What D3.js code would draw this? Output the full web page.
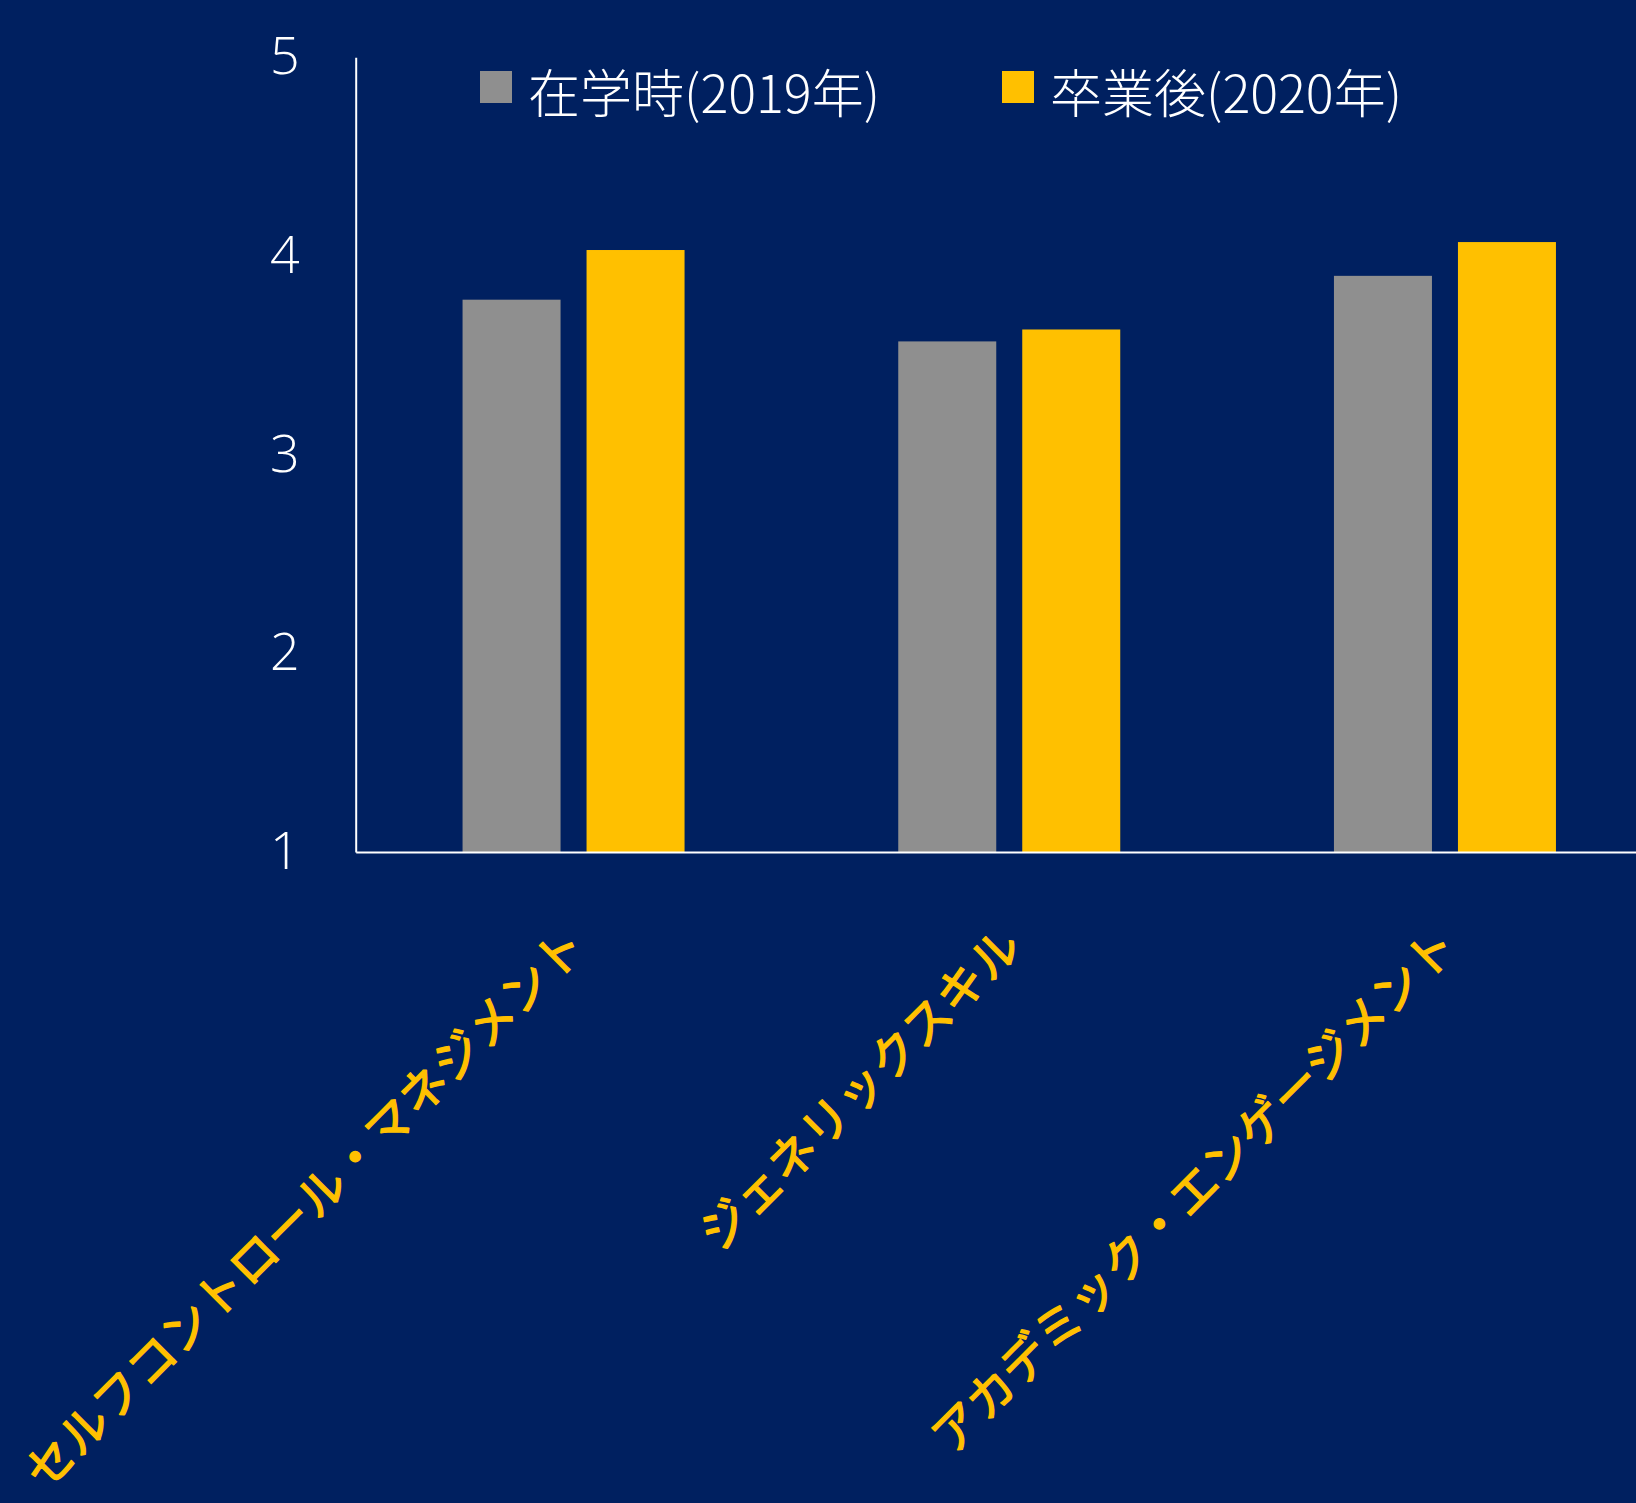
<!DOCTYPE html>
<html>
<head>
<meta charset="utf-8">
<script src="https://cdn.jsdelivr.net/npm/d3@7"></script>
<style>
  html, body { margin: 0; padding: 0; background: #002060; overflow: hidden; }
  svg { display: block; }
</style>
</head>
<body>
<svg id="chart" width="1636" height="1503"></svg>
<script>
// ---- data ----
const categories = ["セルフコントロール・マネジメント", "ジェネリックスキル", "アカデミック・エンゲージメント"];
const seriesNames = ["在学時(2019年)", "卒業後(2020年)"];
const values2019 = [3.78, 3.57, 3.90];
const values2020 = [4.03, 3.63, 4.07];
const yTicks = [1, 2, 3, 4, 5];

const seriesColors = ["#8F8F8F", "#FFC000"];
const seriesValues = [values2019, values2020];

// ---- layout ----
const svg = d3.select("#chart");
const W = 1636, H = 1503;
svg.append("rect").attr("width", W).attr("height", H).attr("fill", "#002060");

const plotLeft = 355.7, plotRight = 1662.8, plotTop = 57.3, plotBottom = 852;

const x0 = d3.scaleBand().domain(categories).range([plotLeft, plotRight]).padding(0);
const groupWidth = 222;
const x1 = d3.scaleBand().domain(seriesNames).range([0, groupWidth]).paddingInner(26 / 124).paddingOuter(0);
const groupOffset = (x0.bandwidth() - groupWidth) / 2;

const y = d3.scaleLinear().domain([1, 5]).range([plotBottom, plotTop]);

// bars
const data = [];
categories.forEach((c, i) => {
  seriesNames.forEach((s, j) => {
    data.push({ cat: c, series: s, value: seriesValues[j][i], color: seriesColors[j] });
  });
});

svg.append("g").selectAll("rect")
  .data(data)
  .join("rect")
  .attr("x", d => x0(d.cat) + groupOffset + x1(d.series))
  .attr("y", d => y(d.value))
  .attr("width", x1.bandwidth())
  .attr("height", d => y(1) - y(d.value))
  .attr("fill", d => d.color);

// y axis
const yAxis = svg.append("g")
  .attr("transform", `translate(${plotLeft},0)`)
  .call(d3.axisLeft(y).tickValues(yTicks).tickFormat(d3.format("d")).tickSize(0).tickSizeOuter(0).tickPadding(56));
yAxis.select(".domain").attr("stroke", "#FFFFFF").attr("stroke-width", 2);
yAxis.selectAll(".tick text")
  .attr("fill", "#FFFFFF")
  .attr("font-family", "'Open Sans', 'Noto Sans', sans-serif")
  .attr("font-weight", 300)
  .attr("font-size", 52);

// x axis line
const xAxis = svg.append("g")
  .attr("transform", `translate(0,${plotBottom})`)
  .call(d3.axisBottom(x0).tickSize(0).tickSizeOuter(0).tickFormat(""));
xAxis.select(".domain").attr("stroke", "#FFFFFF").attr("stroke-width", 2);

// category labels (rotated)
svg.append("g").selectAll("text")
  .data(categories)
  .join("text")
  .attr("transform", d => `translate(${x0(d) + x0.bandwidth() / 2 + 15},${plotBottom + 97}) rotate(-45)`)
  .attr("text-anchor", "end")
  .attr("fill", "#FFC000")
  .attr("stroke", "#FFC000")
  .attr("stroke-width", 1.4)
  .attr("stroke-linejoin", "round")
  .attr("font-family", "'Noto Sans CJK JP', sans-serif")
  .attr("font-weight", 400)
  .attr("font-size", 48)
  .text(d => d);

// legend
const legendX = [480, 1002];
const legend = svg.append("g");
seriesNames.forEach((s, j) => {
  legend.append("rect")
    .attr("x", legendX[j]).attr("y", 71)
    .attr("width", 32).attr("height", 32)
    .attr("fill", seriesColors[j]);
  legend.append("text")
    .attr("x", legendX[j] + 48).attr("y", 90.5)
    .attr("dominant-baseline", "central")
    .attr("fill", "#FFFFFF")
    .attr("font-family", "'Noto Sans CJK JP', sans-serif")
    .attr("font-weight", 300)
    .attr("font-size", 52)
    .text(s);
});
</script>
</body>
</html>
